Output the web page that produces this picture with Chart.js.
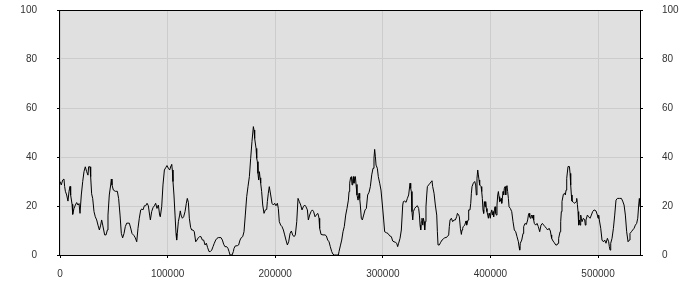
<!DOCTYPE html>
<html><head><meta charset="utf-8">
<script src="https://cdn.jsdelivr.net/npm/chart.js@4/dist/chart.umd.min.js"></script>
<style>html,body{margin:0;padding:0;background:#fff}#wrap{width:700px;height:300px}</style>
</head><body><div id="wrap"><canvas id="c" width="700" height="300"></canvas></div>
<script>
const xTicks = [0, 100000, 200000, 300000, 400000, 500000];
const yTicks = [0, 20, 40, 60, 80, 100];
const xMin = 0, xMax = 539000;
const yMin = 0, yMax = 100;
// series samples: [x (thousands), value]
const series = [
[0,30],[1.2,28.6],[2.5,30.6],[3.7,31],[4.3,28],[5,26],[6.2,24.5],[7.4,22],[8.4,26],[9.3,28],[9.9,24.5],[11.2,20.7],[11.8,16.6],[13,19],[14.3,20.4],[15.5,21.4],[16.7,20.4],[17.7,21],[18.6,17],[19.8,24.5],[21.1,30],[22.3,34],[23.5,36],[24.8,34],[26,32.6],[26.6,36],[27.9,36],[28.5,32],[29.4,25],[30.4,23],[31.6,17.7],[32.8,15.6],[34.1,14.3],[35.3,12.2],[36.6,10.2],[37.8,12.2],[38.7,14.3],[39.7,12.2],[40.6,10.2],[41.5,8.2],[42.8,8.2],[44,10.2],[44.6,16.3],[45.8,24.5],[47.1,28.6],[47.7,31],[48.3,28.6],[49.6,26.5],[51.4,26],[53.3,26],[54.5,23],[55.8,16.3],[57,8.8],[58.2,7],[59.5,8.8],[60.7,11.6],[62,13],[64.4,13],[65.7,11],[66.9,8.8],[68.8,7.9],[70,7],[71.3,5.4],[72.5,10.9],[73.7,15],[75,18.4],[76.2,18.8],[77.1,18.4],
[78.4,20.1],[79.6,20.1],[80.9,21.1],[82.1,20.1],[83.3,16.3],[84,14.3],[85.2,17.7],[86.4,19.3],[87.7,20.1],[88.9,21.1],[90.1,19],[91.4,20.4],[92.6,16.3],[93.2,15.6],[94.5,19.7],[95.7,28.6],[97,34.7],[98.2,35.6],[99.4,36.5],[100.7,35.4],[101.9,34.7],[103.2,36.5],[103.8,37],[104.4,34.7],[105,30],[105.9,24.5],[106.9,16.3],[107.8,8.8],[108.4,6.1],[109,8.8],[110,13.6],[111.2,16.3],[111.8,18],[112.5,16.3],[113.7,15],[114.9,15.6],[116.2,17.7],[117.4,21.1],[118.3,23.1],[119.3,21.5],[120.2,15],[121.4,11.2],[122.4,10.2],[123.6,10.2],[124.8,9.5],[126.1,5.4],[127.3,6.1],[128.6,7.1],[129.8,7.5],[131,7.5],[132.3,6.1],[133.5,6.1],[134.8,4.1],[136,4.8],[137.2,3],[138.5,1.4],[139.7,1.4],[141,2],[142.2,3.4],[143.4,4.8],[144.7,6.1],[145.9,6.8],[147.1,7.1],[149.6,7.1],[150.9,6.1],[152.1,4.4],[153.3,3.4],
[154.9,3.4],[156.1,2.7],[157.1,1.4],[158,0],[159.9,0],[161.1,1.4],[161.7,2.7],[162.9,3.7],[164.8,3.8],[166,4.1],[167.3,6.1],[168.5,7.1],[169.8,7.5],[171,9.5],[172.2,16.3],[173.5,23.8],[174.7,27.9],[176,32],[177.2,39.5],[178.4,46.3],[179.7,52.4],[180.3,51],[180.9,47.6],[182.2,43.5],[182.8,39.5],[183.4,38.1],[184,33.3],[184.6,30.6],[185.3,34],[185.9,31.5],[186.5,29.3],[187.4,25.9],[188.4,20.4],[189.6,17],[190.8,18.4],[192.1,18.6],[192.7,21.8],[193.6,25.2],[194.5,27.9],[195.8,24.5],[197,21.1],[198.3,20.4],[199.5,21.1],[200.7,20.1],[202,21.1],[202.9,19],[203.8,13.6],[205.1,12.2],[206.3,11.6],[207.6,10.2],[208.8,8.2],[210,6.1],[211.3,4.1],[212.5,5.4],[213.8,8.8],[215,9.8],[216.2,8.2],[217.5,7.5],[218.7,8.2],[220,13.6],[221.2,23.1],[222.4,21.8],[223.7,20.4],[224.9,18.4],[226.1,19.7],[227.4,20.4],[228.6,19.7],[229.9,18.4],[230.8,14.3],
[232,16.3],[233.3,17.7],[234.5,18.4],[235.7,17.7],[237,15.6],[238.2,16.3],[239.5,17],[240.1,16.3],[240.7,15],[241.3,10.9],[242.6,8.4],[244.4,8.2],[246.3,8.2],[247.5,7.8],[248.8,6.1],[250,5.4],[251.2,3.4],[252.5,1.4],[253.7,0.3],[255,0],[256.8,0],[258.7,0],[259.3,1.4],[260.5,3.7],[261.8,6.1],[263,9.5],[264.2,11.6],[265.5,16.3],[266.7,19],[268,22.4],[268.6,25.9],[269.2,29.3],[270.1,31.7],[270.8,32],[271.4,28.6],[272,30.6],[272.6,32],[273.2,29.3],[273.9,31.3],[274.5,32],[275.1,28.8],[276,24.5],[277,22.4],[277.9,25.2],[278.5,23.1],[279.1,20.4],[280,15],[281,14.3],[282.2,16.3],[283.5,18.4],[284.7,19],[285.9,24.5],[287.2,25.6],[288.4,27.9],[289.7,32.7],[290.9,35.4],[291.8,39.5],[292.4,43.1],[293.1,40.1],[293.7,36.7],[294.9,35.4],[295.8,32],[297.1,29.3],[298.3,26.5],[299.6,20.4],[300.8,14.3],[301.7,9.5],[303.3,9.1],[304.8,8.8],[306.4,7.8],[307.9,7.5],
[309.2,5.7],[310.4,5.4],[311.6,5.2],[312.9,4.8],[313.8,3.4],[314.7,4.8],[316,6.8],[317.2,10.2],[318.5,20.4],[319.1,21.8],[320.3,22],[321.6,21.5],[322.8,23.1],[324,24.5],[325.3,29.3],[325.9,27.2],[326.5,25.9],[327.1,17.7],[327.8,14.3],[328.4,17.7],[329.6,19],[330.9,19.7],[332.1,20.1],[333.3,19],[334,16.3],[334.6,12.2],[335.2,10.2],[335.8,13.6],[336.4,15],[337.1,12.2],[337.7,15],[338.3,13.6],[338.9,10.2],[339.5,13.6],[340.1,19.7],[340.8,24.5],[341.4,27.9],[342.6,28.6],[343.9,29.3],[345.1,30],[345.7,30.3],[346.3,28],[347.6,25.2],[348.8,20.4],[350.1,16.3],[350.7,9.5],[351.3,4.1],[352.5,4.1],[353.8,5.2],[355,6.1],[356.3,6.5],[357.5,7.1],[358.7,7.1],[360,7.5],[361.2,8.2],[361.8,11.6],[362.5,14.3],[363.7,15],[364.9,13.6],[366.2,14.3],[367.4,14.3],[368.6,15.6],[369.3,17],[370.5,16.3],[371.1,15.6],[372.1,10.9],[373,8.4],[373.6,10.2],[374.2,10.9],[374.8,11.6],[376.1,12.2],[377.3,13.9],[377.9,12.2],[379.2,14.3],[379.8,18.4],[381,18.4],[381.7,21.1],[382.3,25.2],[382.9,27.9],[384.1,29.3],[385.4,30],
[386.3,28.6],[386.9,24.5],[387.5,31.3],[388.2,34.7],[388.8,32.7],[389.4,30.6],[390,28.6],[391.3,27.9],[391.9,25.9],[392.5,23.1],[393.1,18.4],[393.7,17],[394.4,21.8],[395,19.7],[395.6,21.8],[396.2,19],[396.8,17.7],[397.5,16.3],[398.1,15],[398.7,17],[399.3,16.3],[399.9,15],[400.6,17.7],[401.2,18.4],[401.8,16.3],[402.4,17.7],[403,15.6],[403.7,18.4],[404.3,19.7],[404.9,17],[405.5,16.3],[406.1,20.4],[406.8,24.5],[407.4,25.9],[408,23.8],[408.6,21.8],[409.2,22],[409.9,23.1],[410.5,21.1],[411.1,23.1],[411.7,25.9],[412.3,24.5],[412.9,27.2],[413.6,27.9],[414.2,24.5],[414.8,27.9],[415.4,28.3],[416,25.9],[416.7,23.1],[417.3,19.7],[418.5,19],[419.8,17.7],[421,13.6],[422.2,10.2],[423.5,9.5],[424.7,7.5],[426,5.4],[426.6,3.4],[427.2,2],[427.8,4.8],[429.1,6.1],[430.3,8.8],[430.9,11.6],[432.2,12.9],[433.4,12.5],[434.6,14.3],[435.3,16.3],[435.9,17],[436.5,15.6],[437.1,15],[437.7,15.6],[438.3,16.3],[439,15],[439.6,16.3],[440.2,14.3],[440.8,12.9],[442.1,12.2],[443.3,12.9],[444.5,11.6],[445.8,9.5],[447,12.2],[448.3,12.9],[449.5,12.2],[450.7,11.6],[452,10.9],[453.2,10.2],[454.5,10.9],[455.7,9.8],[456.3,8.2],[456.9,6.8],[458.2,5.7],[459.4,5],[460.7,4.1],[461.9,4.1],[462.8,4.8],
[463.4,6.8],[464.7,9.5],[465.3,13.6],[465.9,17.7],[466.5,21.8],[467.8,24.8],[469,25.2],[469.6,24.5],[470.3,26.5],[470.9,31.3],[472.1,36.1],[473.4,36.1],[474,33.3],[474.6,28.6],[475.2,24.5],[475.8,22],[477.1,21.5],[478.3,21.1],[479.6,21.8],[480.2,23.1],[480.8,20.7],[481.4,17.7],[482,12.2],[482.7,14.3],[483.3,12.2],[483.9,16.3],[484.5,15],[485.1,13.6],[486.4,15],[487.6,14.3],[488.2,12.2],[488.8,14.3],[490.1,16.3],[491.3,15.6],[492.6,15],[493.8,16.3],[495,17.7],[496.3,18.4],[498.1,18],[499.4,16.3],[500,15],[500.6,16.3],[501.2,14.3],[502.5,10.9],[503.7,6.1],[505,5.4],[506.2,6.1],[507.4,4.8],[508.7,6.8],[509.9,5.4],[510.5,3.4],[511.2,2],[511.8,4.8],[513,6.8],[514.3,10.9],[515.5,16.3],[516.7,22.4],[518,23.1],[519.8,23.1],[521.7,23.1],[522.9,22],[524.2,20.4],[525.4,16.3],[526.6,9.5],[527.9,5.4],[529.1,6.1],[529.7,8.8],[531,9.5],[532.2,10.2],[533.5,10.9],[534.7,12.2],[535.9,12.9],[536.9,15],[537.8,20.4],[538.4,23.1],[539,19.7]
];

const points = series.map(p => ({x: p[0] * 1000, y: p[1]}));

Chart.defaults.font.family = '"Liberation Sans", Arial, sans-serif';
Chart.defaults.font.size = 10;
Chart.defaults.color = '#333333';

const frame = {
  id: 'frame',
  beforeDraw(chart) {
    const {ctx, chartArea: a} = chart;
    ctx.save();
    ctx.fillStyle = '#e0e0e0';
    ctx.fillRect(a.left, a.top, a.right - a.left, a.bottom - a.top);
    ctx.restore();
  },
  afterDraw(chart) {
    const {ctx, chartArea: a} = chart;
    ctx.save();
    ctx.strokeStyle = '#000000';
    ctx.lineWidth = 1;
    ctx.strokeRect(Math.round(a.left) - 0.5, Math.round(a.top) + 0.5, Math.round(a.right - a.left) + 1, Math.round(a.bottom - a.top));
    ctx.restore();
  }
};

const fixedTicks = (arr) => (scale) => { scale.ticks = arr.map(v => ({value: v})); };
const fitY = (s) => { s.width = 60; s.paddingTop = 0; s.paddingBottom = 0; };

new Chart(document.getElementById('c'), {
  type: 'line',
  data: {
    datasets: [{
      data: points,
      borderColor: '#000000',
      borderWidth: 1,
      pointRadius: 0,
      tension: 0,
      fill: false
    }]
  },
  options: {
    responsive: false,
    animation: false,
    events: [],
    layout: {padding: {top: 10, left: 0, right: 0, bottom: 0}},
    plugins: {legend: {display: false}, tooltip: {enabled: false}},
    scales: {
      x: {
        type: 'linear', min: xMin, max: xMax,
        afterBuildTicks: fixedTicks(xTicks),
        afterFit(s) { s.height = 45; s.paddingLeft = 0; s.paddingRight = 0; },
        border: {display: false},
        grid: {color: '#cccccc', tickColor: '#000000', tickLength: 3, drawTicks: true},
        ticks: {padding: 10, maxRotation: 0, autoSkip: false, callback: v => String(v)}
      },
      y: {
        position: 'left', min: yMin, max: yMax,
        afterBuildTicks: fixedTicks(yTicks),
        afterFit: fitY,
        border: {display: false},
        grid: {color: '#cccccc', tickColor: '#000000', tickLength: 3},
        ticks: {padding: 20, callback: v => String(v)}
      },
      y2: {
        position: 'right', min: yMin, max: yMax,
        afterBuildTicks: fixedTicks(yTicks),
        afterFit: fitY,
        border: {display: false},
        grid: {drawOnChartArea: false, tickColor: '#000000', tickLength: 3},
        ticks: {padding: 19, callback: v => String(v)}
      }
    }
  },
  plugins: [frame]
});
</script>
</body></html>
